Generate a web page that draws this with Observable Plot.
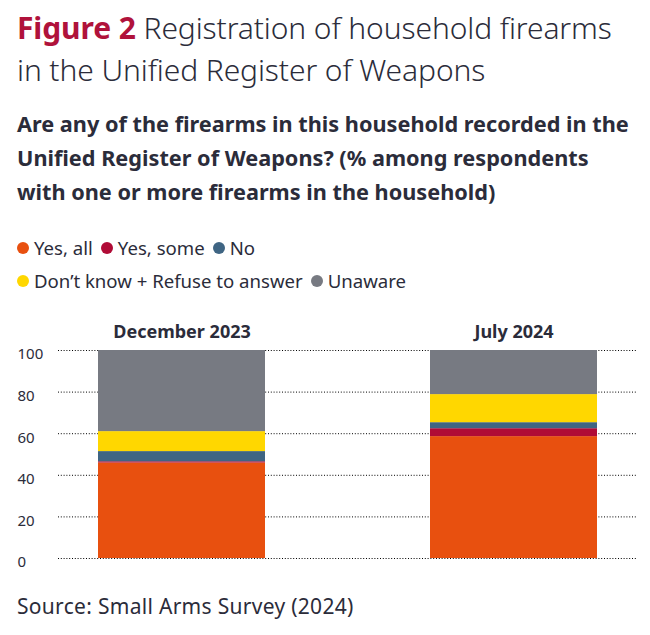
<!DOCTYPE html>
<html>
<head>
<meta charset="utf-8">
<script src="https://cdn.jsdelivr.net/npm/d3@7"></script>
<script src="https://cdn.jsdelivr.net/npm/@observablehq/plot@0.6"></script>
<style>
  html, body { margin: 0; padding: 0; background: #fff; }
  #wrap { position: relative; width: 650px; height: 635px; font-family: "Noto Sans", sans-serif; color: #2b2c3a; }
  .abs { position: absolute; left: 17px; white-space: nowrap; }
  #title { top: 7px; font-size: 30px; line-height: 42px; font-weight: 300; letter-spacing: -0.1px; }
  #title b { color: #b0123b; font-weight: 700; }
  #subtitle { top: 107px; font-size: 21.7px; line-height: 34px; font-weight: 700; }
  #legend { top: 231px; font-size: 18.6px; line-height: 32px; }
  .item { display: inline-flex; align-items: center; margin-right: 8px; }
  .dot { width: 12px; height: 12px; border-radius: 50%; display: inline-block; margin-right: 5px; }
  #chart { position: absolute; left: 0; top: 312px; }
  #source { top: 591px; font-size: 21px; line-height: 30px; letter-spacing: 0.3px; }
</style>
</head>
<body>
<div id="wrap">
  <div id="title" class="abs"><b>Figure 2</b> Registration of household firearms<br>in the Unified Register of Weapons</div>
  <div id="subtitle" class="abs">Are any of the firearms in this household recorded in the<br>Unified Register of Weapons? (% among respondents<br>with one or more firearms in the household)</div>
  <div id="legend" class="abs"></div>
  <div id="chart"></div>
  <div id="source" class="abs">Source: Small Arms Survey (2024)</div>
</div>
<script>
const periods = ["December 2023", "July 2024"];
const responses = ["Yes, all", "Yes, some", "No", "Don’t know + Refuse to answer", "Unaware"];
const colors = ["#e8500f", "#b00b36", "#3f6583", "#ffd700", "#777a82"];
const yesAll = [45.9, 58.6];
const yesSome = [0.6, 3.8];
const no = [4.9, 2.9];
const dontKnow = [9.6, 13.5];
const unaware = [39.0, 21.2];
const yTicks = [0, 20, 40, 60, 80, 100];

const series = [yesAll, yesSome, no, dontKnow, unaware];
const data = [];
periods.forEach((p, i) => {
  responses.forEach((r, j) => data.push({period: p, response: r, value: series[j][i]}));
});

// legend
const legend = document.getElementById("legend");
const rows = [[0, 1, 2], [3, 4]];
rows.forEach(row => {
  const div = document.createElement("div");
  row.forEach(j => {
    const s = document.createElement("span");
    s.className = "item";
    s.innerHTML = `<span class="dot" style="background:${colors[j]}"></span>${responses[j]}`;
    div.appendChild(s);
  });
  legend.appendChild(div);
});

const chart = Plot.plot({
  width: 650,
  height: 262,
  marginTop: 38,
  marginBottom: 16,
  marginLeft: 58,
  marginRight: 13,
  style: {fontFamily: "Noto Sans, sans-serif", color: "#2b2c3a", background: "transparent"},
  x: {domain: periods, paddingInner: 0.497, paddingOuter: 0.12, label: null},
  y: {domain: [0, 100], label: null},
  color: {domain: responses, range: colors},
  marks: [
    Plot.gridY(yTicks, {stroke: "#000", strokeOpacity: 1, strokeDasharray: "1,1.8", strokeWidth: 1}),
    Plot.barY(data, {x: "period", y: "value", fill: "response", order: responses}),
    Plot.axisY(yTicks, {tickSize: 0, tickPadding: 0, textAnchor: "start", dx: -41, dy: 4, fontSize: 15, label: null}),
    Plot.axisX({anchor: "top", tickSize: 0, tickPadding: 0, dy: -13, fontSize: 18, fontWeight: "bold", label: null})
  ]
});
document.getElementById("chart").appendChild(chart);
</script>
</body>
</html>
